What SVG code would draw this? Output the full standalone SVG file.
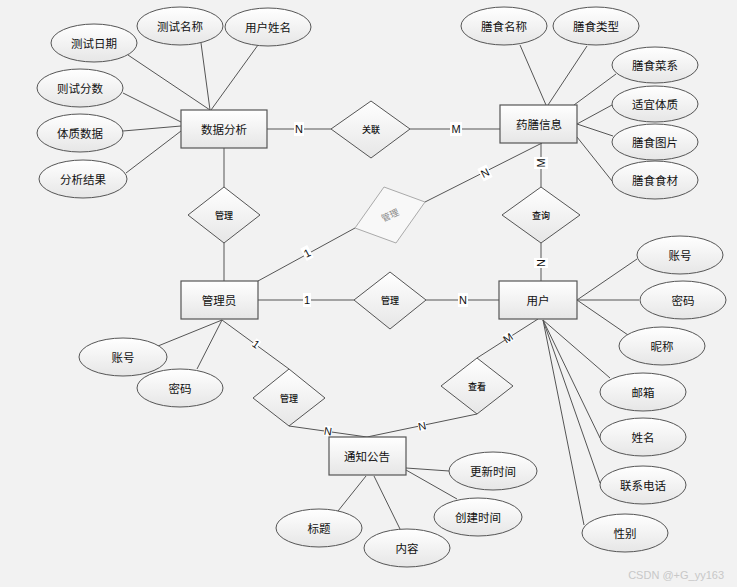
<svg xmlns="http://www.w3.org/2000/svg" width="737" height="587" viewBox="0 0 737 587">
<defs>
<linearGradient id="g" x1="0" y1="0" x2="0" y2="1">
<stop offset="0" stop-color="#ffffff"/>
<stop offset="1" stop-color="#e6e6e6"/>
</linearGradient>
<style>
.e{fill:url(#g);stroke:#555;stroke-width:1}
.r{fill:url(#g);stroke:#555;stroke-width:1.2}
.d{fill:url(#g);stroke:#555;stroke-width:1}
.l{stroke:#555;stroke-width:1;fill:none}
.t{font-family:"Noto Sans CJK SC","Liberation Sans",sans-serif;font-size:11.5px;fill:#111;text-anchor:middle;dominant-baseline:central}
.s{font-family:"Noto Sans CJK SC","Liberation Sans",sans-serif;font-size:9px;fill:#111;text-anchor:middle;dominant-baseline:central;font-weight:500}
.lb{font-family:"Liberation Sans",sans-serif;font-size:11px;fill:#111;text-anchor:middle;dominant-baseline:central}
.bg{fill:#fff}
</style>
</defs>
<rect width="737" height="587" fill="#f2f2f2"/>
<g id="connectors">
<line class="l" x1="128" y1="55" x2="210" y2="110"/>
<line class="l" x1="201" y1="43" x2="210" y2="110"/>
<line class="l" x1="258" y1="45" x2="211" y2="110"/>
<line class="l" x1="123" y1="93" x2="181" y2="122"/>
<line class="l" x1="123" y1="131" x2="181" y2="126"/>
<line class="l" x1="126" y1="173" x2="181" y2="131"/>
<line class="l" x1="520" y1="45" x2="546" y2="105"/>
<line class="l" x1="587" y1="46" x2="548" y2="105"/>
<line class="l" x1="616" y1="74" x2="574" y2="105"/>
<line class="l" x1="612" y1="105" x2="577" y2="124"/>
<line class="l" x1="613" y1="136" x2="577" y2="124" stroke-width="1.5"/>
<line class="l" x1="612" y1="181" x2="577" y2="137"/>
<line class="l" x1="267" y1="129" x2="331" y2="129"/>
<line class="l" x1="410" y1="129" x2="500" y2="129"/>
<line class="l" x1="541" y1="143" x2="541" y2="187"/>
<line class="l" x1="541" y1="243" x2="541" y2="281"/>
<line class="l" x1="224" y1="148" x2="224" y2="187"/>
<line class="l" x1="224" y1="243" x2="224" y2="281"/>
<line class="l" x1="258" y1="281" x2="355" y2="228"/>
<line class="l" x1="425" y1="202" x2="542" y2="143"/>
<line class="l" x1="258" y1="300" x2="354" y2="300"/>
<line class="l" x1="426" y1="300" x2="499" y2="300"/>
<line class="l" x1="222" y1="320" x2="158" y2="346"/>
<line class="l" x1="222" y1="320" x2="197" y2="369"/>
<line class="l" x1="222" y1="320" x2="289" y2="369"/>
<line class="l" x1="289" y1="426" x2="367" y2="437"/>
<line class="l" x1="477" y1="414" x2="367" y2="437"/>
<line class="l" x1="477" y1="358" x2="538" y2="319"/>
<line class="l" x1="577" y1="300" x2="637" y2="259"/>
<line class="l" x1="577" y1="300" x2="639" y2="300"/>
<line class="l" x1="577" y1="300" x2="628" y2="335"/>
<line class="l" x1="543" y1="320" x2="610" y2="378"/>
<line class="l" x1="543" y1="320" x2="600" y2="438"/>
<line class="l" x1="543" y1="320" x2="600" y2="483"/>
<line class="l" x1="543" y1="320" x2="584" y2="525"/>
<line class="l" x1="406" y1="468" x2="449" y2="471"/>
<line class="l" x1="406" y1="470" x2="457" y2="499"/>
<line class="l" x1="374" y1="476" x2="400" y2="529"/>
<line class="l" x1="366" y1="476" x2="338" y2="511"/>
<rect class="bg" x="294" y="122" width="10" height="14"/><text class="lb" x="299" y="129">N</text>
<rect class="bg" x="450" y="122" width="12" height="14"/><text class="lb" x="456" y="129">M</text>
<g transform="translate(541,163) rotate(-90)"><rect class="bg" x="-6" y="-7" width="12" height="14"/><text class="lb" x="0" y="0">M</text></g>
<g transform="translate(541,263) rotate(-90)"><rect class="bg" x="-5" y="-7" width="10" height="14"/><text class="lb" x="0" y="0">N</text></g>
<g transform="translate(307,253) rotate(-28)"><rect class="bg" x="-4" y="-7" width="8" height="14"/><text class="lb" x="0" y="0">1</text></g>
<g transform="translate(485,173) rotate(-27)"><rect class="bg" x="-5" y="-7" width="10" height="14"/><text class="lb" x="0" y="0">N</text></g>
<rect class="bg" x="303" y="293" width="8" height="14"/><text class="lb" x="307" y="300">1</text>
<rect class="bg" x="458" y="293" width="10" height="14"/><text class="lb" x="463" y="300">N</text>
<g transform="translate(256,344) rotate(36)"><rect class="bg" x="-3" y="-5" width="6" height="10"/><text class="lb" x="0" y="0" font-size="8">1</text></g>
<g transform="translate(328,431) rotate(8)"><rect class="bg" x="-4" y="-5" width="8" height="10"/><text class="lb" x="0" y="0" font-size="8">N</text></g>
<g transform="translate(422,426) rotate(-12)"><rect class="bg" x="-4" y="-5" width="8" height="10"/><text class="lb" x="0" y="0" font-size="8">N</text></g>
<g transform="translate(508,338) rotate(-33)"><rect class="bg" x="-4" y="-5" width="9" height="10"/><text class="lb" x="0" y="0" font-size="8">M</text></g>
</g>
<g id="e-shujufenxi"><rect class="r" x="181" y="110" width="86" height="38"/><text class="t" x="224" y="129">数据分析</text></g>
<g id="e-yaoshan"><rect class="r" x="500" y="105" width="77" height="38"/><text class="t" x="539" y="124">药膳信息</text></g>
<g id="e-guanliyuan"><rect class="r" x="181" y="281" width="77" height="38"/><text class="t" x="219" y="300">管理员</text></g>
<g id="e-yonghu"><rect class="r" x="499" y="281" width="78" height="38"/><text class="t" x="538" y="300">用户</text></g>
<g id="e-tongzhi"><rect class="r" x="329" y="437" width="77" height="38"/><text class="t" x="367" y="456" font-size="11">通知公告</text></g>
<g id="r-guanlian"><polygon class="d" points="331,129 371,101 410,129 371,158"/><text class="s" x="371" y="129">关联</text></g>
<g id="r-guanli1"><polygon class="d" points="188,215 224,187 260,215 224,243"/><text class="s" x="224" y="215">管理</text></g>
<g id="r-guanli2"><polygon points="384,187 425,202 396,243 355,228" fill="#f8f8f8" stroke="#aaa" stroke-width="1"/><text class="s" x="390" y="215" style="fill:#888;font-weight:normal" transform="rotate(-25 390 215)">管理</text></g>
<g id="r-guanli3"><polygon class="d" points="354,300 390,272 426,300 390,329"/><text class="s" x="390" y="300">管理</text></g>
<g id="r-chaxun"><polygon class="d" points="502,215 541,187 580,215 541,243"/><text class="s" x="541" y="215">查询</text></g>
<g id="r-guanli4"><polygon class="d" points="253,398 289,369 325,398 289,426"/><text class="s" x="289" y="398">管理</text></g>
<g id="r-chakan"><polygon class="d" points="441,386 477,358 513,386 477,414"/><text class="s" x="477" y="386">查看</text></g>
<g id="a-ceshiriqi"><ellipse class="e" cx="94" cy="43" rx="43" ry="19"/><text class="t" x="94" y="43">测试日期</text></g>
<g id="a-ceshimingcheng"><ellipse class="e" cx="180" cy="26" rx="43" ry="19"/><text class="t" x="180" y="26">测试名称</text></g>
<g id="a-yonghuxingming"><ellipse class="e" cx="268" cy="27" rx="43" ry="19"/><text class="t" x="268" y="27">用户姓名</text></g>
<g id="a-zeshifenshu"><ellipse class="e" cx="80" cy="88" rx="43" ry="19"/><text class="t" x="80" y="88">则试分数</text></g>
<g id="a-tizhishuju"><ellipse class="e" cx="80" cy="133" rx="43" ry="19"/><text class="t" x="80" y="133">体质数据</text></g>
<g id="a-fenxijieguo"><ellipse class="e" cx="83" cy="179" rx="44" ry="19"/><text class="t" x="83" y="179">分析结果</text></g>
<g id="a-shanshimingcheng"><ellipse class="e" cx="504" cy="26" rx="43" ry="19"/><text class="t" x="504" y="26">膳食名称</text></g>
<g id="a-shanshileixing"><ellipse class="e" cx="596" cy="26" rx="43" ry="19"/><text class="t" x="596" y="26">膳食类型</text></g>
<g id="a-caixi"><ellipse class="e" cx="655" cy="65" rx="43" ry="18"/><text class="t" x="655" y="65">膳食菜系</text></g>
<g id="a-shiyitizhi"><ellipse class="e" cx="655" cy="104" rx="43" ry="18"/><text class="t" x="655" y="104">适宜体质</text></g>
<g id="a-tupian"><ellipse class="e" cx="655" cy="142" rx="43" ry="18"/><text class="t" x="655" y="142">膳食图片</text></g>
<g id="a-shicai"><ellipse class="e" cx="655" cy="180" rx="43" ry="19"/><text class="t" x="655" y="180">膳食食材</text></g>
<g id="a-gly-zhanghao"><ellipse class="e" cx="123" cy="357" rx="44" ry="19"/><text class="t" x="123" y="357">账号</text></g>
<g id="a-gly-mima"><ellipse class="e" cx="180" cy="388" rx="43" ry="19"/><text class="t" x="180" y="388">密码</text></g>
<g id="a-yh-zhanghao"><ellipse class="e" cx="680" cy="255" rx="43" ry="19"/><text class="t" x="680" y="255">账号</text></g>
<g id="a-yh-mima"><ellipse class="e" cx="683" cy="300" rx="43" ry="19"/><text class="t" x="683" y="300">密码</text></g>
<g id="a-nicheng"><ellipse class="e" cx="662" cy="346" rx="43" ry="19"/><text class="t" x="662" y="346">昵称</text></g>
<g id="a-youxiang"><ellipse class="e" cx="643" cy="392" rx="43" ry="19"/><text class="t" x="643" y="392">邮箱</text></g>
<g id="a-xingming"><ellipse class="e" cx="643" cy="437" rx="43" ry="19"/><text class="t" x="643" y="437">姓名</text></g>
<g id="a-dianhua"><ellipse class="e" cx="643" cy="485" rx="43" ry="19"/><text class="t" x="643" y="485">联系电话</text></g>
<g id="a-xingbie"><ellipse class="e" cx="625" cy="533" rx="43" ry="19"/><text class="t" x="625" y="533">性别</text></g>
<g id="a-gengxin"><ellipse class="e" cx="493" cy="471" rx="44" ry="19"/><text class="t" x="493" y="471">更新时间</text></g>
<g id="a-chuangjian"><ellipse class="e" cx="478" cy="517" rx="44" ry="19"/><text class="t" x="478" y="517">创建时间</text></g>
<g id="a-neirong"><ellipse class="e" cx="407" cy="548" rx="43" ry="19"/><text class="t" x="407" y="548">内容</text></g>
<g id="a-biaoti"><ellipse class="e" cx="319" cy="528" rx="43" ry="19"/><text class="t" x="319" y="528">标题</text></g>
<text x="724" y="575" font-family="Liberation Sans, sans-serif" font-size="11" fill="#c8c8c8" text-anchor="end" dominant-baseline="central">CSDN @+G_yy163</text>
</svg>
